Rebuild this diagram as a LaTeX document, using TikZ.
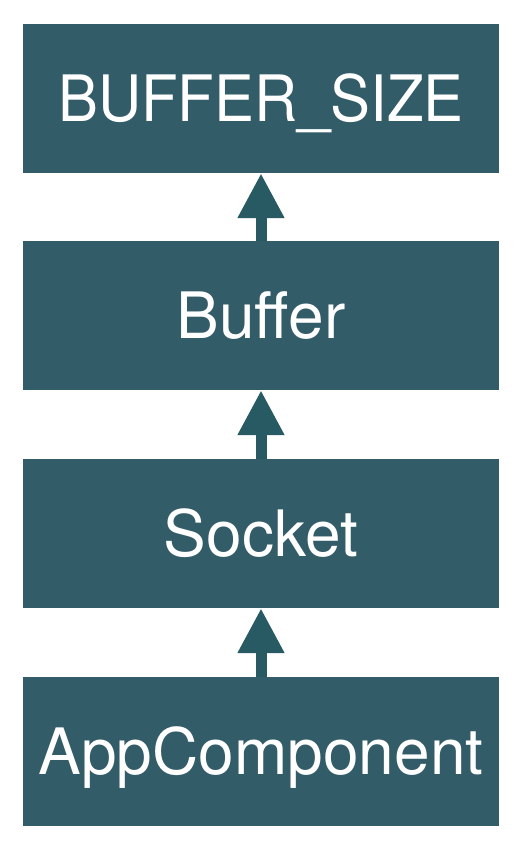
\documentclass[tikz,border=0pt]{standalone}
\usepackage{fontspec}
\setmainfont{TeX Gyre Heros}
\usetikzlibrary{arrows.meta}
\definecolor{boxc}{HTML}{335C69}
\definecolor{arrc}{HTML}{285A64}
\begin{document}
\begin{tikzpicture}[x=1pt,y=-1pt,
  blk/.style={fill=boxc, text=white, minimum width=476pt, minimum height=149pt,
    inner sep=0pt, text height=46pt, text depth=0pt, font=\fontsize{64}{70}\selectfont},
  dep/.style={draw=arrc, line width=11pt, -{Triangle[width=44pt,length=45pt]}}]
\useasboundingbox (0,0) rectangle (518,846);
\node[blk] (bs) at (261,98.5) {\scalebox{0.935}[1]{BUFFER\_SIZE}};
\node[blk] (bu) at (261,315.5) {Buffer};
\node[blk] (so) at (261,533.5) {Socket};
\node[blk] (ap) at (261,751.5) {AppComponent};
\draw[dep] (bu.north) -- (bs.south);
\draw[dep] (so.north) -- (bu.south);
\draw[dep] (ap.north) -- (so.south);
\end{tikzpicture}
\end{document}
